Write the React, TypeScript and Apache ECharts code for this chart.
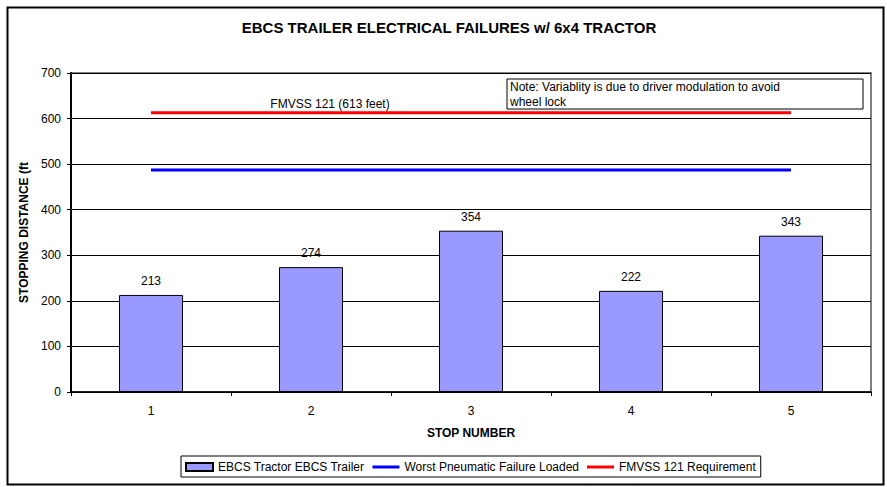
import React, { useEffect, useRef } from "react";
import * as echarts from "echarts";

const categories = ["1", "2", "3", "4", "5"];
const stoppingDistance = [213, 274, 354, 222, 343];
const worstPneumatic = [487, 487, 487, 487, 487];
const fmvssRequirement = [613, 613, 613, 613, 613];
const yTicks = { min: 0, max: 700, interval: 100 };

const FONT = "'Liberation Sans', Arial, sans-serif";
const LINE_ICON = "path://M0 0 H27 V3 H0 Z";

export default function App() {
  const ref = useRef<HTMLDivElement>(null);
  useEffect(() => {
    const chart = echarts.init(ref.current!, null, { renderer: "svg" });
    chart.setOption({
      animation: false,
      backgroundColor: "#ffffff",
      textStyle: { fontFamily: FONT },
      title: {
        text: "EBCS TRAILER ELECTRICAL FAILURES w/ 6x4 TRACTOR",
        left: 444,
        top: 15,
        textAlign: "center",
        textStyle: { fontFamily: FONT, fontSize: 15, fontWeight: "bold", color: "#000" },
      },
      grid: {
        left: 71,
        top: 73,
        width: 800,
        height: 319,
        show: true,
        borderColor: "#808080",
        borderWidth: 2,
        backgroundColor: "#ffffff",
      },
      legend: {
        left: 181,
        top: 456,
        padding: [5, 5, 4, 4],
        borderColor: "#000",
        borderWidth: 1,
        itemGap: 8,
        itemWidth: 27,
        itemHeight: 8,
        textStyle: { fontFamily: FONT, fontSize: 12, color: "#000" },
        data: [
          { name: "EBCS Tractor EBCS Trailer", icon: "rect" },
          { name: "Worst Pneumatic Failure Loaded", icon: LINE_ICON },
          { name: "FMVSS 121 Requirement", icon: LINE_ICON },
        ],
      },
      xAxis: {
        type: "category",
        data: categories,
        boundaryGap: true,
        name: "STOP NUMBER",
        nameLocation: "middle",
        nameGap: 35,
        nameTextStyle: { fontFamily: FONT, fontSize: 12, fontWeight: "bold", color: "#000" },
        axisLine: { lineStyle: { color: "#000", width: 1.5 } },
        axisTick: { show: true, length: 4, alignWithLabel: false, lineStyle: { color: "#000" } },
        axisLabel: { fontFamily: FONT, fontSize: 12, color: "#000", margin: 13 },
        splitLine: { show: false },
      },
      yAxis: {
        type: "value",
        min: yTicks.min,
        max: yTicks.max,
        interval: yTicks.interval,
        name: "STOPPING DISTANCE (ft",
        nameLocation: "middle",
        nameGap: 36,
        nameTextStyle: { fontFamily: FONT, fontSize: 12, fontWeight: "bold", color: "#000" },
        axisLine: { show: true, lineStyle: { color: "#000", width: 2 } },
        axisTick: { show: true, length: 4, lineStyle: { color: "#000" } },
        axisLabel: { fontFamily: FONT, fontSize: 12, color: "#000", margin: 10 },
        splitLine: { show: true, lineStyle: { color: "#000", width: 1 } },
      },
      series: [
        {
          name: "EBCS Tractor EBCS Trailer",
          type: "bar",
          data: stoppingDistance,
          barWidth: "40%",
          itemStyle: { color: "#9999ff", borderColor: "#000", borderWidth: 1 },
          label: {
            show: true,
            position: "top",
            distance: 8,
            fontFamily: FONT,
            fontSize: 12,
            color: "#000",
          },
        },
        {
          name: "Worst Pneumatic Failure Loaded",
          type: "line",
          data: worstPneumatic,
          symbol: "none",
          lineStyle: { color: "#0000ff", width: 3 },
          itemStyle: { color: "#0000ff" },
          z: 3,
        },
        {
          name: "FMVSS 121 Requirement",
          type: "line",
          data: fmvssRequirement,
          symbol: "none",
          lineStyle: { color: "#ff0000", width: 3 },
          itemStyle: { color: "#ff0000" },
          z: 3,
        },
      ],
      graphic: [
        {
          type: "rect",
          left: 5,
          top: 5,
          shape: { width: 876, height: 477 },
          style: { fill: "none", stroke: "#000", lineWidth: 2 },
          silent: true,
          z: 100,
        },
        {
          type: "text",
          x: 330,
          y: 104,
          style: {
            text: "FMVSS 121 (613 feet)",
            fontFamily: FONT,
            fontSize: 12,
            fill: "#000",
            align: "center",
            verticalAlign: "middle",
          },
          z: 100,
        },
        {
          type: "rect",
          shape: { x: 507, y: 79, width: 356, height: 30 },
          style: { fill: "#fff", stroke: "#000", lineWidth: 1 },
          z: 100,
        },
        {
          type: "text",
          x: 510,
          y: 87,
          style: {
            text: "Note: Variablity is due to driver modulation to avoid",
            fontFamily: FONT,
            fontSize: 12,
            fill: "#000",
            verticalAlign: "middle",
          },
          z: 101,
        },
        {
          type: "text",
          x: 510,
          y: 102,
          style: {
            text: "wheel lock",
            fontFamily: FONT,
            fontSize: 12,
            fill: "#000",
            verticalAlign: "middle",
          },
          z: 101,
        },
      ],
    });
    return () => chart.dispose();
  }, []);
  return (
    <div
      ref={ref}
      style={{ position: "absolute", left: 0, top: 0, width: 887, height: 487 }}
    />
  );
}
